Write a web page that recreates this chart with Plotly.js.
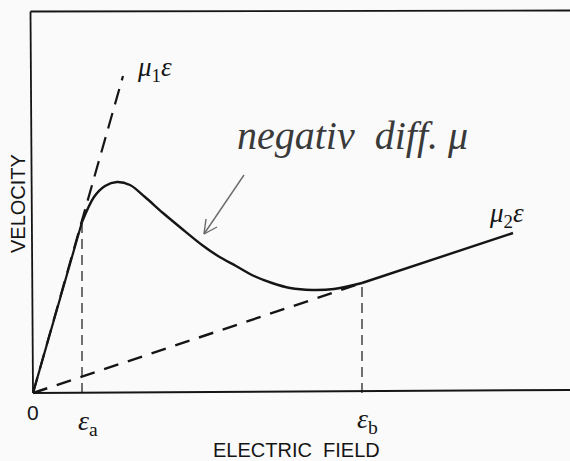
<!DOCTYPE html>
<html>
<head>
<meta charset="utf-8">
<script src="https://cdn.plot.ly/plotly-3.0.1.min.js"></script>
<style>html,body{margin:0;padding:0;background:#fafafa;}#chart{width:570px;height:461px;}</style>
</head>
<body>
<div id="chart"></div>
<script>
// Electric field (arbitrary units) and drift velocity (arbitrary units)
var fieldCurve = [0, 4.9, 6.1, 7.2, 8.4, 9.7, 11.2, 13.0, 14.8, 16.9, 18.5, 20.3, 22.1, 23.9, 25.7, 27.9, 30.1, 32.9];
var velocityCurve = [0, 17.1, 19.6, 20.7, 21.1, 20.8, 19.6, 18.0, 16.5, 14.8, 13.7, 12.7, 11.7, 11.0, 10.5, 10.3, 10.4, 11.0];
var fieldHigh = [32.9, 48.0];
var velocityHigh = [11.0, 16.0];
var fieldMu1 = [0, 9.0];
var velocityMu1 = [0, 31.7];
var fieldMu2 = [0, 32.9];
var velocityMu2 = [0, 11.0];
var fieldA = 4.9, velocityA = 17.1;
var fieldB = 32.9, velocityB = 11.0;
var tickLabels = ['0', '<i>ε</i><sub>a</sub>', '<i>ε</i><sub>b</sub>'];

// pixel helpers for label placement
function X(px){ return (px - 33) / 10; }
function Y(py){ return (393 - py) / 10; }

var ink = '#151515';
var traces = [
  {x: fieldMu1, y: velocityMu1, mode: 'lines', line: {color: ink, width: 2.2, dash: '16px,9px'}, hoverinfo: 'skip'},
  {x: fieldMu2, y: velocityMu2, mode: 'lines', line: {color: ink, width: 2.4, dash: '15px,10px'}, hoverinfo: 'skip'},
  {x: [fieldA, fieldA], y: [0, velocityA], mode: 'lines', line: {color: ink, width: 1.2, dash: '10px,6px'}, hoverinfo: 'skip'},
  {x: [fieldB, fieldB], y: [0, velocityB], mode: 'lines', line: {color: ink, width: 1.2, dash: '10px,6px'}, hoverinfo: 'skip'},
  {x: fieldCurve.slice(1), y: velocityCurve.slice(1), mode: 'lines', line: {color: ink, width: 2.4, shape: 'spline', smoothing: 0.9}, hoverinfo: 'skip'},
  {x: fieldCurve.slice(0, 2), y: velocityCurve.slice(0, 2), mode: 'lines', line: {color: ink, width: 2.2}, hoverinfo: 'skip'},
  {x: fieldHigh, y: velocityHigh, mode: 'lines', line: {color: ink, width: 2.4}, hoverinfo: 'skip'}
];

var pencil = '#6a6a6a';
var shapes = [
  {type: 'line', xref: 'x', yref: 'y', x0: X(30.5), y0: Y(11.5), x1: X(33), y1: Y(393), line: {color: ink, width: 1.8}},
  {type: 'line', xref: 'x', yref: 'y', x0: X(30.5), y0: Y(11.5), x1: X(575), y1: Y(10.5), line: {color: ink, width: 1.8}},
  {type: 'line', xref: 'x', yref: 'y', x0: X(33), y0: Y(393), x1: X(575), y1: Y(390), line: {color: ink, width: 2}},
  // pencilled arrow pointing at the falling part of the curve
  {type: 'line', xref: 'x', yref: 'y', x0: X(244), y0: Y(175), x1: X(204), y1: Y(234), line: {color: pencil, width: 1.4}},
  {type: 'line', xref: 'x', yref: 'y', x0: X(204), y0: Y(234), x1: X(217), y1: Y(227), line: {color: pencil, width: 1.4}},
  {type: 'line', xref: 'x', yref: 'y', x0: X(204), y0: Y(234), x1: X(206), y1: Y(219), line: {color: pencil, width: 1.4}}
];

var annotations = [
  {x: X(33), y: Y(412), text: tickLabels[0], showarrow: false, font: {family: 'Liberation Sans', size: 21, color: ink}},
  {x: X(88), y: Y(422), text: tickLabels[1], showarrow: false, font: {family: 'Liberation Serif', size: 28, color: ink}},
  {x: X(367), y: Y(420), text: tickLabels[2], showarrow: false, font: {family: 'Liberation Serif', size: 28, color: ink}},
  {x: X(296), y: Y(450), text: 'ELECTRIC  FIELD', showarrow: false, font: {family: 'Liberation Sans', size: 20, color: ink}},
  {x: X(18), y: Y(204), text: 'VELOCITY', textangle: -90, showarrow: false, font: {family: 'Liberation Sans', size: 20, color: ink}},
  {x: X(154), y: Y(69), text: '<i>μ</i><sub>1</sub><i>ε</i>', showarrow: false, font: {family: 'Liberation Serif', size: 27, color: ink}},
  {x: X(506), y: Y(215), text: '<i>μ</i><sub>2</sub><i>ε</i>', showarrow: false, font: {family: 'Liberation Serif', size: 27, color: ink}},
  {x: X(352), y: Y(135), text: '<i>negativ  diff. μ</i>', showarrow: false, font: {family: 'Liberation Serif', size: 40, color: '#3a3a3a'}}
];

var layout = {
  width: 570, height: 461,
  margin: {l: 0, r: 0, t: 0, b: 0},
  paper_bgcolor: '#fafafa', plot_bgcolor: '#fafafa',
  showlegend: false,
  xaxis: {range: [X(0), X(570)], visible: false, fixedrange: true},
  yaxis: {range: [Y(461), Y(0)], visible: false, fixedrange: true},
  shapes: shapes,
  annotations: annotations
};
Plotly.newPlot('chart', traces, layout, {staticPlot: true, displayModeBar: false});
</script>
</body>
</html>
